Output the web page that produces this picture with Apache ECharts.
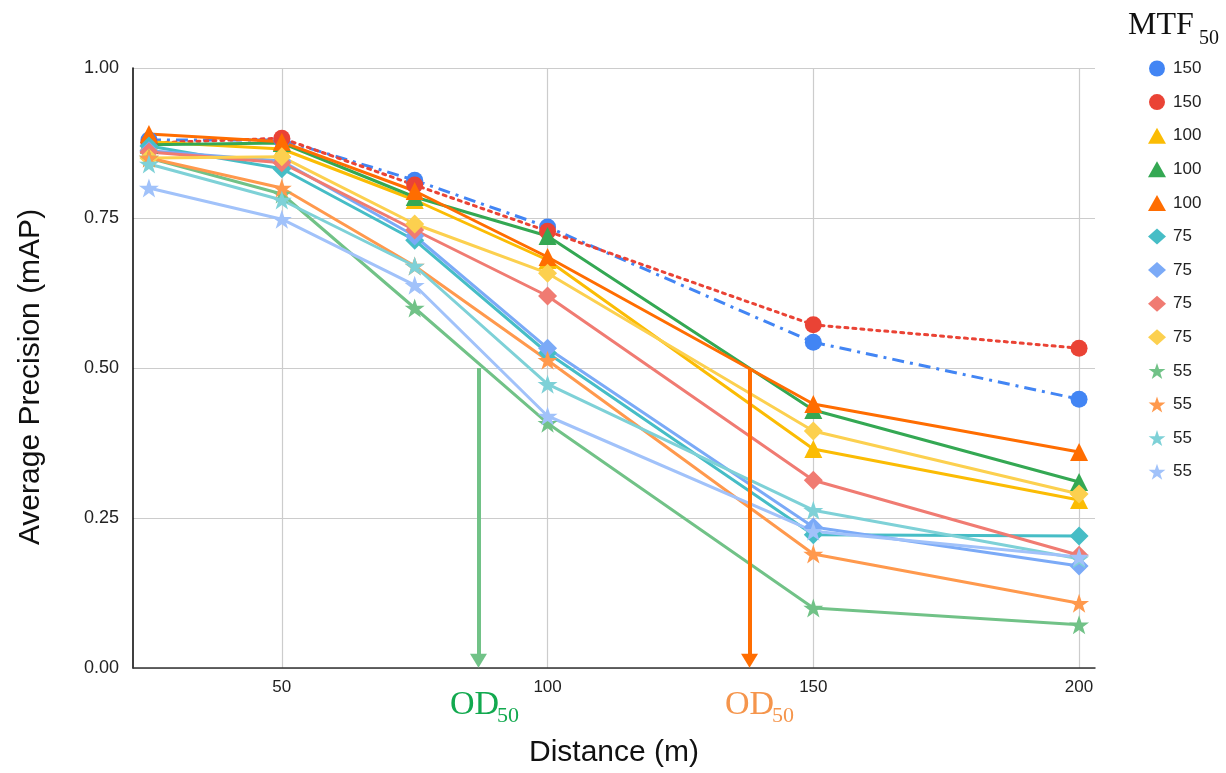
<!DOCTYPE html>
<html>
<head>
<meta charset="utf-8">
<script src="https://cdn.jsdelivr.net/npm/echarts@6/dist/echarts.min.js"></script>
<style>
html,body{margin:0;padding:0;background:#fff;}
#chart{width:1226px;height:773px;}
</style>
</head>
<body>
<div id="chart"></div>
<script>
// ---- data ----
const distances = [25, 50, 75, 100, 150, 200];
const xTicks = [50, 100, 150, 200];
const yTicks = [0, 0.25, 0.5, 0.75, 1.0];

const seriesNames = ['150', '150', '100', '100', '100', '75', '75', '75', '75', '55', '55', '55', '55'];
const blue150    = [0.880, 0.880, 0.813, 0.735, 0.543, 0.448];
const red150     = [0.875, 0.883, 0.805, 0.728, 0.572, 0.533];
const yellow100  = [0.877, 0.865, 0.780, 0.680, 0.365, 0.280];
const green100   = [0.872, 0.875, 0.785, 0.720, 0.430, 0.310];
const orange100  = [0.890, 0.877, 0.795, 0.685, 0.440, 0.360];
const teal75     = [0.870, 0.832, 0.713, 0.525, 0.222, 0.220];
const lblue75    = [0.862, 0.845, 0.720, 0.533, 0.235, 0.170];
const salmon75   = [0.860, 0.842, 0.730, 0.620, 0.313, 0.188];
const lyellow75  = [0.850, 0.852, 0.740, 0.658, 0.395, 0.290];
const lgreen55   = [0.850, 0.790, 0.600, 0.408, 0.100, 0.072];
const lorange55  = [0.850, 0.800, 0.670, 0.513, 0.190, 0.108];
const lteal55    = [0.840, 0.780, 0.670, 0.473, 0.263, 0.182];
const pblue55    = [0.800, 0.748, 0.638, 0.420, 0.228, 0.185];

const od50Green = 87;   // distance where green arrow points
const od50Orange = 138; // distance where orange arrow points
const od50Level = 0.5;
const arrowTip = 0.012;

// ---- styles ----
const allValues = [blue150, red150, yellow100, green100, orange100, teal75, lblue75, salmon75, lyellow75, lgreen55, lorange55, lteal55, pblue55];
const colors = ['#4285F4', '#EA4335', '#FBBC04', '#34A853', '#FF6D01', '#46BDC6', '#7BAAF7', '#F07B72', '#FCD04F', '#71C287', '#FF994D', '#7ED1D7', '#A1C2FA'];
const star = 'path://M50,0 L61.8,35.4 L98.8,35.5 L69.1,57.7 L80.3,93 L50,71.5 L19.7,93 L30.9,57.7 L1.2,35.5 L38.2,35.4 Z';
const symbols = ['circle', 'circle', 'triangle', 'triangle', 'triangle', 'diamond', 'diamond', 'diamond', 'diamond', star, star, star, star];
const sizes = [17, 17, 18, 18, 18, 19, 19, 19, 19, 20, 20, 20, 20];
const lineTypes = [[12, 6, 3, 6], [3, 5], 'solid', 'solid', 'solid', 'solid', 'solid', 'solid', 'solid', 'solid', 'solid', 'solid', 'solid'];

const ids = seriesNames.map((n, i) => n + '_' + i);

const series = allValues.map((vals, i) => ({
  name: ids[i],
  type: 'line',
  data: distances.map((d, j) => [d, vals[j]]),
  symbol: symbols[i],
  symbolSize: sizes[i],
  symbolKeepAspect: true,
  itemStyle: { color: colors[i], borderWidth: 0 },
  lineStyle: { color: colors[i], width: 3, type: lineTypes[i], cap: i === 1 ? 'round' : 'butt' },
  emphasis: { disabled: true },
  animation: false
}));

function arrow(x, color) {
  return {
    type: 'line',
    data: [],
    silent: true,
    animation: false,
    markLine: {
      silent: true,
      animation: false,
      symbol: ['none', 'triangle'],
      symbolSize: [17, 14],
      symbolRotate: 180,
      label: { show: false },
      lineStyle: { color: color, width: 4, type: 'solid' },
      emphasis: { disabled: true },
      data: [[{ coord: [x, od50Level] }, { coord: [x, arrowTip] }]]
    }
  };
}
series.push(arrow(od50Green, '#71C287'));
series.push(arrow(od50Orange, '#FF6D01'));

const option = {
  backgroundColor: '#ffffff',
  animation: false,
  grid: { left: 133, right: 131, top: 68, bottom: 105, containLabel: false },
  xAxis: {
    type: 'value',
    min: 22,
    max: 203,
    name: 'Distance (m)',
    nameLocation: 'middle',
    nameGap: 70,
    nameTextStyle: { fontFamily: 'Liberation Sans', fontSize: 30, color: '#111' },
    axisLine: { show: true, lineStyle: { color: '#333', width: 1.5 } },
    axisTick: { show: false, customValues: xTicks },
    axisLabel: { customValues: xTicks, fontFamily: 'Liberation Sans', fontSize: 17, color: '#222', margin: 11 },
    splitLine: { show: true, lineStyle: { color: '#cccccc', width: 1.2 } }
  },
  yAxis: {
    type: 'value',
    min: yTicks[0],
    max: yTicks[yTicks.length - 1],
    interval: 0.25,
    name: 'Average Precision (mAP)',
    nameLocation: 'middle',
    nameGap: 87,
    nameTextStyle: { fontFamily: 'Liberation Sans', fontSize: 30, color: '#111', padding: [0, 18, 0, 0] },
    axisLine: { show: true, lineStyle: { color: '#000', width: 1.5 } },
    axisTick: { show: false },
    axisLabel: { formatter: v => v.toFixed(2), fontFamily: 'Liberation Sans', fontSize: 18, color: '#222', margin: 14 },
    splitLine: { show: true, lineStyle: { color: '#cccccc', width: 1.2 } }
  },
  legend: {
    orient: 'vertical',
    left: 1143,
    top: 55,
    itemWidth: 18,
    itemHeight: 16,
    itemGap: 16.6,
    selectedMode: false,
    data: ids.map((id, i) => ({ name: id, icon: symbols[i] })),
    formatter: name => name.split('_')[0],
    textStyle: { fontFamily: 'Liberation Sans', fontSize: 17, color: '#222', lineHeight: 16, padding: [0, 0, 0, 2] }
  },
  graphic: [
    { type: 'text', left: 1128, top: 10, style: { text: 'MTF', font: '32px "Liberation Serif"', fill: '#111' } },
    { type: 'text', left: 1199, top: 29, style: { text: '50', font: '20px "Liberation Serif"', fill: '#111' } },
    { type: 'text', left: 450, top: 688, style: { text: 'OD', font: '34px "Liberation Serif"', fill: '#12A94F' } },
    { type: 'text', left: 497, top: 705, style: { text: '50', font: '22px "Liberation Serif"', fill: '#12A94F' } },
    { type: 'text', left: 725, top: 688, style: { text: 'OD', font: '34px "Liberation Serif"', fill: '#F5954C' } },
    { type: 'text', left: 772, top: 705, style: { text: '50', font: '22px "Liberation Serif"', fill: '#F5954C' } }
  ],
  series: series
};

const chart = echarts.init(document.getElementById('chart'), null, { renderer: 'canvas' });
chart.setOption(option);
</script>
</body>
</html>
